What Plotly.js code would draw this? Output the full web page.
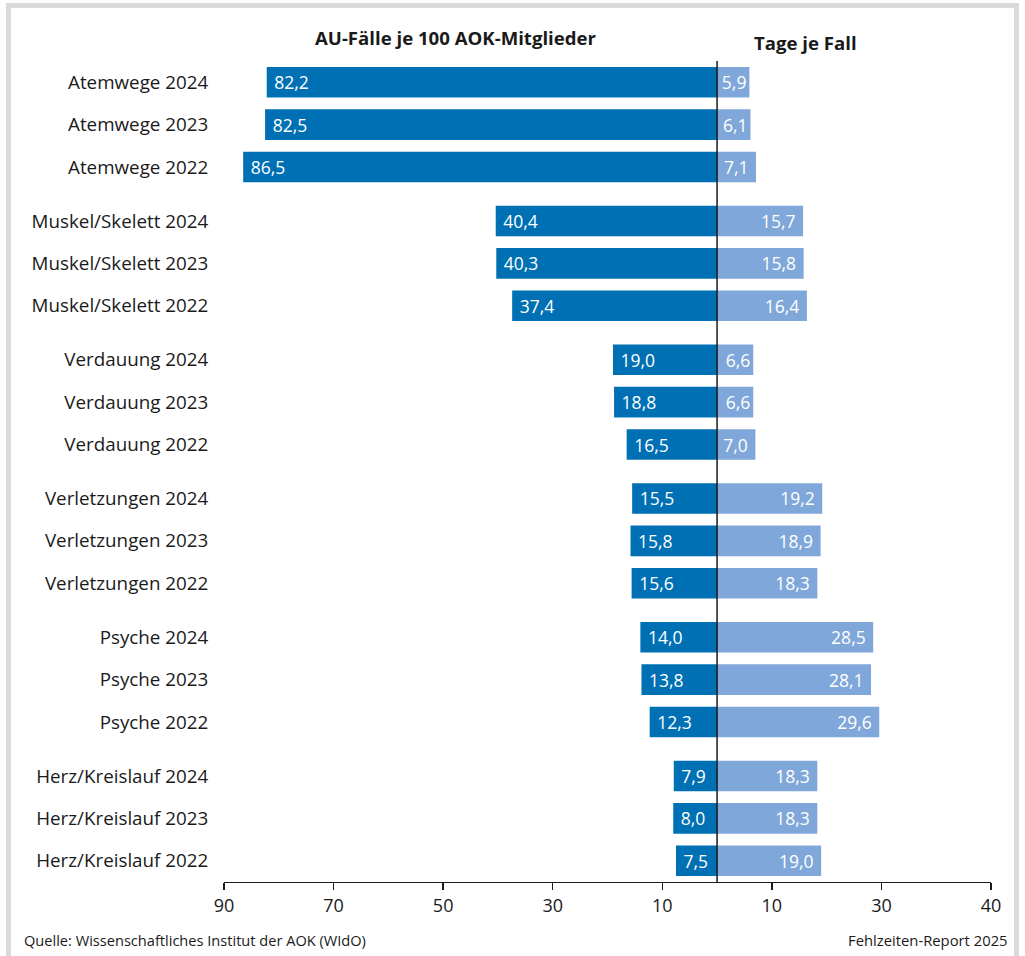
<!DOCTYPE html>
<html>
<head>
<meta charset="utf-8">
<script src="https://cdn.plot.ly/plotly-3.0.1.min.js"></script>
<style>
  html, body { margin: 0; padding: 0; background: #fff; }
  #wrap { position: relative; width: 1025px; height: 956px; }
  #chart { width: 1025px; height: 956px; }
  #frame { position: absolute; left: 6px; top: 3px; width: 1013px; height: 970px;
           border: 5px solid #dadada; border-bottom: none; box-sizing: border-box; pointer-events: none; }
</style>
</head>
<body>
<div id="wrap">
  <div id="chart"></div>
  <div id="frame"></div>
</div>
<script>
// ---- data ----
const groups = ["Atemwege", "Muskel/Skelett", "Verdauung", "Verletzungen", "Psyche", "Herz/Kreislauf"];
const years = ["2024", "2023", "2022"];
const auFaelle = [82.2, 82.5, 86.5, 40.4, 40.3, 37.4, 19.0, 18.8, 16.5, 15.5, 15.8, 15.6, 14.0, 13.8, 12.3, 7.9, 8.0, 7.5];
const tageJeFall = [5.9, 6.1, 7.1, 15.7, 15.8, 16.4, 6.6, 6.6, 7.0, 19.2, 18.9, 18.3, 28.5, 28.1, 29.6, 18.3, 18.3, 19.0];
const xTickVals = [-90, -70, -50, -30, -10, 10, 30, 50];
const xTickText = ["90", "70", "50", "30", "10", "10", "30", "40"];

// ---- derived ----
const GAP = 0.27;
const labels = [], ypos = [];
groups.forEach((g, gi) => {
  years.forEach((y, yi) => {
    labels.push(g + " " + y);
    ypos.push(gi * 3 + yi + gi * GAP);
  });
});
const NB = "\u00a0";
const fmt = v => v.toFixed(1).replace(".", ",");
const FONT = "'Open Sans', 'Noto Sans', sans-serif";

const traceAU = {
  type: "bar", orientation: "h",
  y: ypos, x: auFaelle.map(v => -v),
  text: auFaelle.map(v => NB + fmt(v)),
  textposition: "inside", insidetextanchor: "end", constraintext: "none",
  textfont: { family: FONT, size: 17.5, color: "#ffffff" },
  marker: { color: "#0070b4", line: { width: 0 } },
  width: 0.72, hoverinfo: "skip", cliponaxis: false
};
const traceTage = {
  type: "bar", orientation: "h",
  y: ypos, x: tageJeFall,
  text: tageJeFall.map(v => fmt(v) + (v >= 7 ? NB : "")),
  textposition: "inside", insidetextanchor: "end", constraintext: "none",
  textfont: { family: FONT, size: 17.5, color: "#ffffff" },
  marker: { color: "#7fa7d9", line: { width: 0 } },
  width: 0.72, hoverinfo: "skip", cliponaxis: false
};

const last = ypos[ypos.length - 1];
const layout = {
  width: 1025, height: 956,
  margin: { l: 224, r: 34, t: 61, b: 74 },
  paper_bgcolor: "#ffffff", plot_bgcolor: "#ffffff",
  showlegend: false, barmode: "relative",
  font: { family: FONT, color: "#1a1a1a" },
  xaxis: {
    range: [-90, 50], tickvals: xTickVals, ticktext: xTickText,
    showgrid: false, zeroline: false,
    showline: true, linecolor: "#1a1a1a", linewidth: 1.3,
    ticks: "outside", ticklen: 7, tickwidth: 1.3, tickcolor: "#1a1a1a",
    tickfont: { family: FONT, size: 18, color: "#1a1a1a" },
    fixedrange: true
  },
  yaxis: {
    range: [last + 0.5, -0.5], tickvals: ypos, ticktext: labels,
    showgrid: false, zeroline: false, showline: false,
    ticks: "outside", ticklen: 11, tickcolor: "rgba(0,0,0,0)",
    tickfont: { family: FONT, size: 18.8, color: "#1a1a1a" },
    fixedrange: true
  },
  shapes: [{
    type: "line", xref: "x", yref: "paper", x0: 0, x1: 0, y0: 0, y1: 1,
    line: { color: "#1a1a1a", width: 1.5 }, layer: "above"
  }],
  annotations: [
    { text: "AU-Fälle je 100 AOK-Mitglieder", xref: "x", yref: "paper", x: -47.6, y: 1.029,
      xanchor: "center", yanchor: "middle", showarrow: false,
      font: { family: FONT, size: 18.6, weight: 700, color: "#1a1a1a" } },
    { text: "Tage je Fall", xref: "x", yref: "paper", x: 16.1, y: 1.023,
      xanchor: "center", yanchor: "middle", showarrow: false,
      font: { family: FONT, size: 18.6, weight: 700, color: "#1a1a1a" } },
    { text: "Quelle: Wissenschaftliches Institut der AOK (WIdO)", xref: "paper", yref: "paper",
      x: -0.263, y: -0.0706, xanchor: "left", yanchor: "middle", showarrow: false,
      font: { family: FONT, size: 14.6, color: "#1a1a1a" } },
    { text: "Fehlzeiten-Report 2025", xref: "paper", yref: "paper",
      x: 1.0245, y: -0.0706, xanchor: "right", yanchor: "middle", showarrow: false,
      font: { family: FONT, size: 14.8, color: "#1a1a1a" } }
  ]
};

Plotly.newPlot("chart", [traceAU, traceTage], layout, { displayModeBar: false, staticPlot: true });
</script>
</body>
</html>
